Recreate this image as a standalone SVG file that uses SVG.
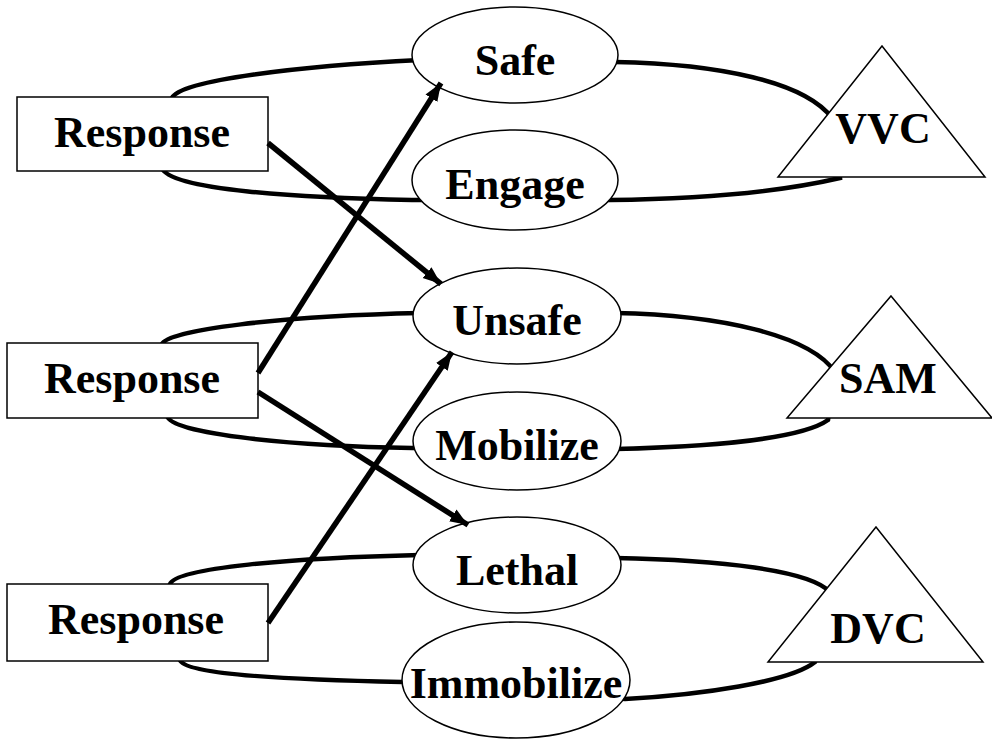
<svg xmlns="http://www.w3.org/2000/svg" width="992" height="740" viewBox="0 0 992 740">
<style>
.loop{fill:none;stroke:#000;stroke-width:4.5}
.arrow{fill:none;stroke:#000;stroke-width:5.5;marker-end:url(#ah)}
.box{fill:#fff;stroke:#000;stroke-width:1.5}
.ell{fill:#fff;stroke:#000;stroke-width:1.5}
.tri{fill:#fff;stroke:#000;stroke-width:1.5}
.t{font-family:'Times New Roman','Liberation Serif','DejaVu Serif',serif;font-weight:700;font-size:44px;text-anchor:middle;fill:#000}
</style>
<defs>
<marker id="ah" markerUnits="userSpaceOnUse" markerWidth="20" markerHeight="16" viewBox="0 0 20 16" refX="18" refY="8" orient="auto">
<path d="M0,1 L18,8 L0,15 Z" fill="#000"/>
</marker>
</defs>
<rect width="992" height="740" fill="#fff"/>
<g id="loops">
<path class="loop" d="M172,98 C180,80 300,66 420,60 L615,62 C720,64 805,82 832,118 L840,178 C780,192 700,199 610,200 L412,200 C300,198 170,190 162,168 Z"/>
<path class="loop" d="M162,344 C168,330 280,316 420,313 L615,313 C720,315 810,335 835,372 L828,420 C800,440 700,447 615,449 L412,448 C300,446 172,435 167,416 Z"/>
<path class="loop" d="M170,584 C176,568 290,558 420,555 L615,558 C720,560 810,570 830,592 L815,662 C790,682 700,695 625,699 L402,682 C300,680 185,675 180,660 Z"/>
</g>
<g id="n-safe"><ellipse class="ell" cx="515" cy="55" rx="103" ry="48"/><text class="t" x="515" y="75">Safe</text></g>
<g id="n-engage"><ellipse class="ell" cx="515" cy="180" rx="103" ry="50"/><text class="t" x="515" y="199">Engage</text></g>
<g id="n-unsafe"><ellipse class="ell" cx="517" cy="316" rx="104" ry="48"/><text class="t" x="517" y="335">Unsafe</text></g>
<g id="n-mobilize"><ellipse class="ell" cx="517" cy="441" rx="104" ry="49"/><text class="t" x="517" y="460">Mobilize</text></g>
<g id="n-lethal"><ellipse class="ell" cx="517" cy="565" rx="104" ry="48"/><text class="t" x="517" y="585">Lethal</text></g>
<g id="n-immobilize"><ellipse class="ell" cx="516" cy="680" rx="114" ry="58"/><text class="t" x="516" y="698">Immobilize</text></g>
<g id="n-vvc"><polygon class="tri" points="882,46 985,177 778,177"/><text class="t" x="883" y="143">VVC</text></g>
<g id="n-sam"><polygon class="tri" points="891,296 992,418 787,418"/><text class="t" x="888" y="393">SAM</text></g>
<g id="n-dvc"><polygon class="tri" points="876,527 983,662 768,662"/><text class="t" x="878" y="643">DVC</text></g>
<g id="n-resp1"><rect class="box" x="17" y="97" width="251" height="74"/><text class="t" x="142" y="147">Response</text></g>
<g id="n-resp2"><rect class="box" x="7" y="343" width="251" height="75"/><text class="t" x="132" y="393">Response</text></g>
<g id="n-resp3"><rect class="box" x="7" y="584" width="261" height="77"/><text class="t" x="136" y="634">Response</text></g>
<g id="connectors">
<path class="arrow" d="M268,143 L441,284"/>
<path class="arrow" d="M258,373 L441,83"/>
<path class="arrow" d="M258,392 L468,525"/>
<path class="arrow" d="M268,623 L452,352"/>
</g>
</svg>
